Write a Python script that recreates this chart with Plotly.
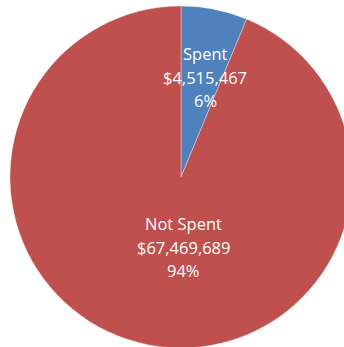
import plotly.graph_objects as go

labels = ["Spent", "Not Spent"]
values = [4515467, 67469689]
colors = ["#4F81BD", "#C0504D"]

# label anchor (pixel centre of middle line) for each slice, in figure pixels
label_centers = [(205, 77), (183, 247)]
line_gap = 23.5

W, H = 354, 350
ML, MR, MT, MB = 10, 2, 6, 2

fig = go.Figure(go.Pie(
    labels=labels,
    values=values,
    sort=False,
    direction="clockwise",
    rotation=0,
    marker=dict(colors=colors, line=dict(color="rgba(255,255,255,0.5)", width=0.7)),
    textinfo="none",
    hoverinfo="none",
))

total = sum(values)
pw, ph = W - ML - MR, H - MT - MB
for lab, val, (cx, cy) in zip(labels, values, label_centers):
    lines = [lab, f"${val:,}", f"{round(100 * val / total)}%"]
    for i, t in enumerate(lines):
        py = cy + (i - 1) * line_gap
        fig.add_annotation(
            text=t, xref="paper", yref="paper",
            x=(cx - ML) / pw, y=1 - (py - MT) / ph,
            xanchor="center", yanchor="middle", showarrow=False,
            font=dict(color="white", size=16.5, family="Open Sans"),
        )

fig.update_layout(
    width=W, height=H,
    margin=dict(l=ML, r=MR, t=MT, b=MB),
    paper_bgcolor="white",
    plot_bgcolor="white",
    showlegend=False,
)

fig.write_html("out.html", config={"displayModeBar": False},
               post_script="document.body.style.overflow='hidden';document.documentElement.style.overflow='hidden';document.body.style.margin='0';")
